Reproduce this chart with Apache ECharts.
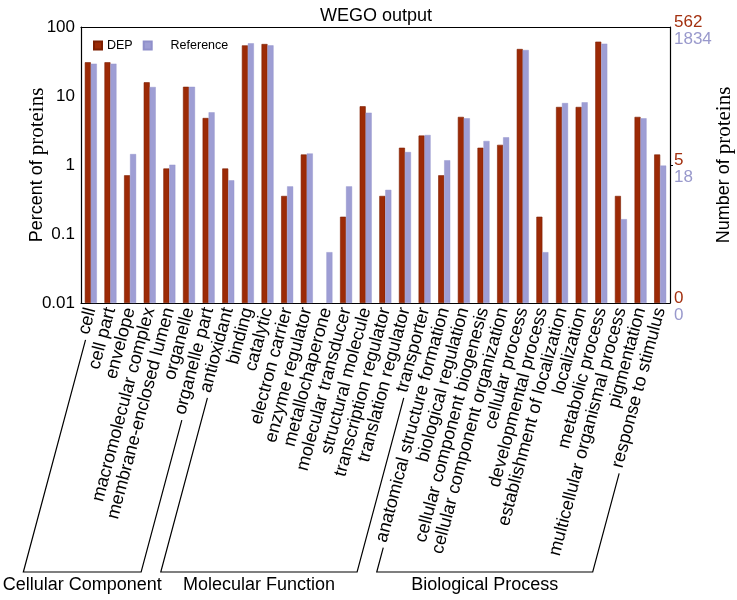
<!DOCTYPE html>
<html><head><meta charset="utf-8">
<script src="https://cdn.jsdelivr.net/npm/echarts@6/dist/echarts.min.js"></script>
<style>html,body{margin:0;padding:0;background:#fff}#c{width:737px;height:600px}</style>
</head><body><div id="c"></div>
<script>
const categories = ['cell','cell part','envelope','macromolecular complex','membrane-enclosed lumen','organelle','organelle part',
  'antioxidant','binding','catalytic','electron carrier','enzyme regulator','metallochaperone','molecular transducer','structural molecule','transcription regulator','translation regulator','transporter',
  'anatomical structure formation','biological regulation','cellular component biogenesis','cellular component organization','cellular process','developmental process','establishment of localization','localization','metabolic process','multicellular organismal process','pigmentation','response to stimulus'];
const depPercent = [30.8,30.8,0.71,15.8,0.89,13.6,4.8,
  0.89,54.2,56.7,0.356,1.42,null,0.178,7.1,0.356,1.78,2.67,
  0.71,4.98,1.78,1.96,48.0,0.178,6.94,6.94,61.3,0.356,4.98,1.42];
const refPercent = [29.4,29.4,1.44,13.5,1.01,13.6,5.8,
  0.6,58.0,54.2,0.49,1.47,0.0545,0.49,5.73,0.436,1.54,2.72,
  1.17,4.75,2.23,2.52,46.4,0.0545,7.9,8.1,57.3,0.164,4.75,0.98];
const groupNames = ['Cellular Component','Molecular Function','Biological Process'];
const groupFirst = [0,7,18];
const groupLast = [6,17,29];
const leftTickValues = [0.01,0.1,1,10,100];
const rightLabelValues = [0.01,1,100];
const rightDepLabels = ['0','5','562'];
const rightRefLabels = ['0','18','1834'];

const DEP_COLOR = '#9c2a06';
const REF_COLOR = '#9e9ed4';
const FONT = '"Liberation Sans", Arial, sans-serif';
const SERIF = '"Liberation Serif", "Times New Roman", serif';
const ROT = 75;

const chart = echarts.init(document.getElementById('c'), null, {renderer:'canvas'});
function decade(v){ return Math.round(Math.log10(v)); }
const option = {
  animation:false,
  textStyle:{fontFamily:FONT},
  title:{text:'WEGO output', left:315, top:2, textStyle:{fontSize:18, fontWeight:'normal', color:'#000', fontFamily:FONT}},
  legend:{data:['DEP','Reference'], left:88, top:34, icon:'rect', itemWidth:8, itemHeight:8, itemGap:10,
    formatter:function(n){ return n==='Reference' ? '    '+n : n; },
    textStyle:{fontSize:12.5, color:'#000', fontFamily:FONT}},
  grid:{left:81, right:67, top:27, bottom:297, containLabel:false, outerBoundsMode:'none'},
  xAxis:[{
    type:'category', data:categories, position:'bottom',
    axisLine:{lineStyle:{color:'#000', width:1.2}},
    axisTick:{inside:true, length:4, lineStyle:{color:'#000'}},
    axisLabel:{interval:0, rotate:ROT, margin:5, fontSize:18, color:'#000', fontFamily:FONT}
  },{
    type:'category', data:categories, position:'top',
    axisLine:{lineStyle:{color:'#000', width:1.2}},
    axisTick:{inside:true, length:4, lineStyle:{color:'#000'}},
    axisLabel:{show:false}
  }],
  yAxis:[{
    type:'log', logBase:10, min:0.01, max:100, interval:1, startValue:0.01, position:'left',
    name:'Percent of {s|proteins}', nameLocation:'middle', nameGap:33, nameRotate:90, nameMoveOverlap:false,
    nameTextStyle:{fontSize:18, color:'#000', fontFamily:FONT, rich:{s:{fontSize:21, fontFamily:SERIF, color:'#000'}}},
    axisLine:{show:true, lineStyle:{color:'#000', width:1.2}},
    axisTick:{show:false},
    splitLine:{show:false},
    axisLabel:{fontSize:17, color:'#000', margin:6, fontFamily:FONT, formatter:function(v){
      const d = decade(v); const i = leftTickValues.findIndex(t=>decade(t)===d);
      return i>=0 ? String(leftTickValues[i]) : '';
    }}
  },{
    type:'log', logBase:10, min:0.01, max:100, interval:1, startValue:0.01, position:'right',
    name:'Number of {s|proteins}', nameLocation:'middle', nameGap:44, nameRotate:90, nameMoveOverlap:false,
    nameTextStyle:{fontSize:18, color:'#000', fontFamily:FONT, rich:{s:{fontSize:21, fontFamily:SERIF, color:'#000'}}},
    axisLine:{show:true, lineStyle:{color:'#000', width:1.2}},
    axisTick:{show:true, length:3, lineStyle:{color:'#000'}, customValues:[1]},
    splitLine:{show:false},
    axisLabel:{margin:4, fontFamily:FONT, padding:[8,0,0,0], formatter:function(v){
      const d = decade(v); const i = rightLabelValues.findIndex(t=>decade(t)===d);
      return i>=0 ? '{r|'+rightDepLabels[i]+'}\n{p|'+rightRefLabels[i]+'}' : '';
    }, rich:{
      r:{fontSize:17, color:'#a3300f', lineHeight:17, fontFamily:FONT},
      p:{fontSize:17, color:'#9999cc', lineHeight:17, fontFamily:FONT}
    }}
  }],
  series:[{
    name:'DEP', type:'bar', data:depPercent.map(v=>v==null?'-':v), xAxisIndex:0, yAxisIndex:0,
    barWidth:6, barGap:'0%', itemStyle:{color:DEP_COLOR, borderColor:'#7d1e00', borderWidth:0.6}
  },{
    name:'Reference', type:'bar', data:refPercent, xAxisIndex:0, yAxisIndex:0,
    barWidth:6, barGap:'0%', itemStyle:{color:REF_COLOR, borderColor:'#8f8fca', borderWidth:0.4}
  }]
};
chart.setOption(option);

// Group brackets drawn along the rotated category labels
const ctx = document.createElement('canvas').getContext('2d');
ctx.font = '18px ' + FONT;
const th = ROT*Math.PI/180;
const dx = -Math.cos(th), dy = Math.sin(th);
const axisY = chart.convertToPixel({yAxisIndex:0}, 0.01);
const bracketY = 572;
const gap = 5;
function lineFrom(idx){
  const cx = chart.convertToPixel({xAxisIndex:0}, categories[idx]);
  const w = ctx.measureText(categories[idx]).width;
  const sx = cx + 3 + (w+gap)*dx, sy = axisY + 6 + (w+gap)*dy;
  const t = (bracketY - sy)/dy;
  return {s:[sx,sy], e:[sx + t*dx, bracketY]};
}
const graphics = [];
for(let g=0; g<groupNames.length; g++){
  const a = lineFrom(groupFirst[g]);
  const b = lineFrom(groupLast[g]);
  graphics.push({type:'polyline', shape:{points:[a.s, a.e, b.e, b.s]}, style:{stroke:'#000', lineWidth:1.2, fill:null}});
  graphics.push({type:'text', x:(a.e[0]+b.e[0])/2, y:bracketY+13, style:{text:groupNames[g], font:'18px '+FONT, fill:'#000', textAlign:'center', textVerticalAlign:'middle'}});
}
chart.setOption({graphic:graphics});
</script>
</body></html>
